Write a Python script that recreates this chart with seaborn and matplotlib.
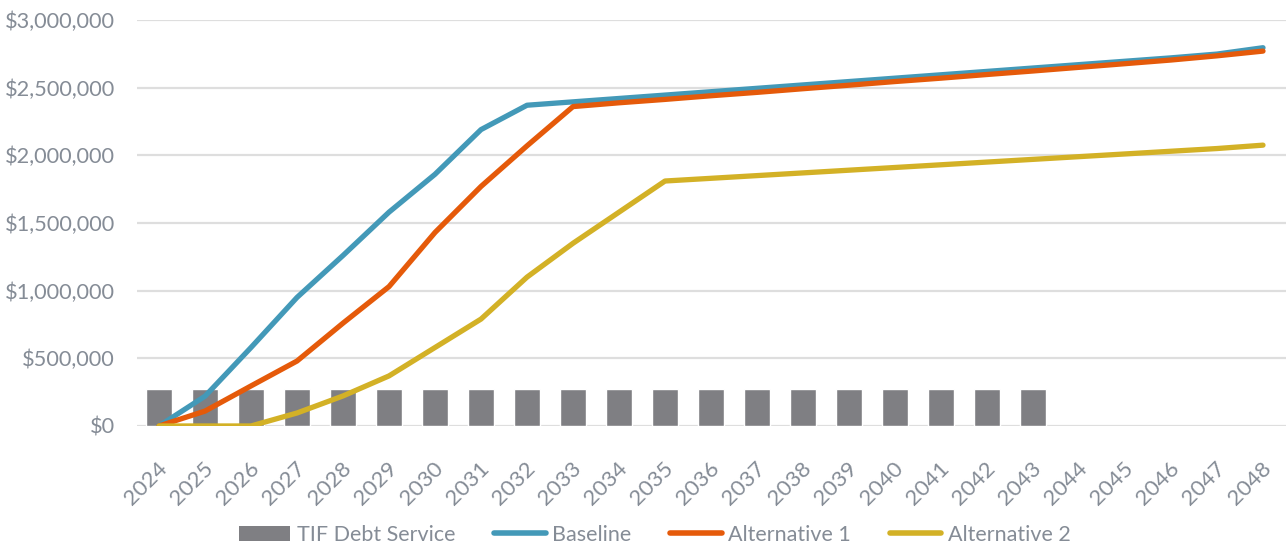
import numpy as np
import pandas as pd
import matplotlib
matplotlib.use("Agg")
import matplotlib.pyplot as plt
import matplotlib.transforms as mtransforms
import seaborn as sns
from matplotlib.lines import Line2D
from matplotlib.patches import Patch
from matplotlib.ticker import FuncFormatter

years = [str(y) for y in range(2024, 2049)]
debt_service = [270000] * 20 + [np.nan] * 5
baseline = [0, 220000, 580000, 950000, 1260000, 1580000, 1860000, 2190000, 2370000,
            2395000, 2420000, 2445000, 2470000, 2495000, 2520000, 2545000, 2570000,
            2595000, 2620000, 2645000, 2670000, 2695000, 2720000, 2748000, 2795000]
alt1 = [0, 110000, 296000, 480000, 760000, 1030000, 1430000, 1770000, 2070000,
        2360000, 2388000, 2413000, 2440000, 2465000, 2492000, 2518000, 2545000,
        2570000, 2597000, 2623000, 2650000, 2677000, 2704000, 2735000, 2770000]
alt2 = [0, 0, 0, 96000, 222000, 370000, 580000, 790000, 1100000, 1350000,
        1580000, 1810000, 1830000, 1850000, 1870000, 1890000, 1910000, 1930000,
        1950000, 1970000, 1990000, 2010000, 2030000, 2050000, 2075000]

series_names = ["Baseline", "Alternative 1", "Alternative 2"]
series_vals = [baseline, alt1, alt2]
colors = ["#4399B8", "#E55A0A", "#D3B126"]
bar_color = "#7F7F83"
text_color = "#858C96"

sns.set_theme(style="white")
plt.rcParams["font.family"] = ["Lato", "DejaVu Sans"]

fig = plt.figure(figsize=(12.86, 5.5), dpi=100)
ax = fig.add_axes([0.1065, 0.2255, 0.8935, 0.7382])

df = pd.DataFrame({"year": years, "debt": debt_service})
sns.barplot(data=df, x="year", y="debt", order=years, color=bar_color,
            saturation=1, width=0.56, ax=ax, zorder=2)

pos = np.arange(len(years))
for name, vals, c in zip(series_names, series_vals, colors):
    sns.lineplot(x=pos, y=vals, color=c, linewidth=3.8, ax=ax, zorder=3,
                 solid_capstyle="round", solid_joinstyle="round")

ax.set_ylim(0, 3000000)
ax.set_xlim(-0.48, 24.5)
ax.set_yticks(np.arange(0, 3000001, 500000))
ax.yaxis.set_major_formatter(FuncFormatter(lambda v, p: f"${v:,.0f}"))
ax.grid(axis="y", color="#DEDEDE", linewidth=1.6, zorder=0)
ax.set_axisbelow(True)
for s in ax.spines.values():
    s.set_visible(False)
ax.set_xlabel("")
ax.set_ylabel("")
ax.tick_params(axis="y", labelsize=15.7, colors=text_color, length=0, pad=16)
ax.tick_params(axis="x", labelsize=16, colors=text_color, length=0, pad=23)
offset = mtransforms.ScaledTranslation(-2 / 100, 0, fig.dpi_scale_trans)
for lab in ax.get_xticklabels():
    lab.set_rotation(45)
    lab.set_ha("right")
    lab.set_va("top")
    lab.set_rotation_mode("anchor")
    lab.set_transform(lab.get_transform() + offset)

handles = [Patch(facecolor=bar_color, edgecolor="none", label="TIF Debt Service")]
for name, c in zip(series_names, colors):
    handles.append(Line2D([0], [0], color=c, linewidth=4, solid_capstyle="round", label=name))
leg = fig.legend(handles=handles, loc="center", bbox_to_anchor=(0.509, 1 - 535 / 550),
                 ncol=4, frameon=False, fontsize=15.5, handlelength=2.4, handleheight=0.7,
                 handletextpad=0.3, columnspacing=1.8)
for t in leg.get_texts():
    t.set_color(text_color)

fig.savefig("out.png", dpi=100)
